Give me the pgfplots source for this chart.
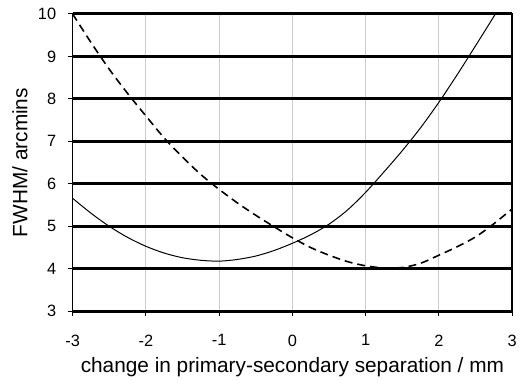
\documentclass[border=0pt]{standalone}
\usepackage{pgfplots}
\pgfplotsset{compat=1.18}
\usepackage{fontspec}
\setmainfont{Liberation Sans}
\begin{document}
\begin{tikzpicture}
\begin{axis}[
  name=main,
  width=442bp, height=299bp, scale only axis,
  xmin=-3, xmax=3, ymin=3, ymax=10,
  xtick={-3,-2,-1,0,1,2,3},
  ytick={3,4,5,6,7,8,9,10},
  tick align=outside,
  tick pos=left,
  major tick length=5bp,
  tick style={black, line width=1bp},
  xmajorgrids, ymajorgrids,
  x grid style={gray!40, line width=1bp},
  y grid style={black, line width=3bp},
  axis line style={black, line width=1.4bp},
  /pgf/number format/assume math mode=true,
  tick label style={font=\fontsize{16.5}{18}\selectfont},
  xticklabel style={yshift=-15bp},
  yticklabel style={xshift=-8bp},
  label style={font=\fontsize{21}{24}\selectfont},
  xlabel={change in primary-secondary separation / mm},
  ylabel={FWHM/ arcmins},
  xlabel style={at={(axis description cs:0.5,-0.187)}, anchor=center},
  ylabel style={at={(axis description cs:-0.12,0.5)}, anchor=center},
  clip=true,
]
\addplot[black, line width=1bp, smooth] coordinates {
(-3,5.66) (-2.75,5.31) (-2.5,5.00) (-2.25,4.74) (-2,4.53) (-1.75,4.37) (-1.5,4.26) (-1.25,4.20) (-1,4.18) (-0.75,4.22) (-0.5,4.30) (-0.25,4.43) (0,4.60) (0.25,4.80) (0.5,5.05) (0.75,5.38) (1,5.80) (1.25,6.28) (1.5,6.78) (1.75,7.32) (2,7.92) (2.25,8.57) (2.5,9.25) (2.75,9.94) (3,10.65)
};
\addplot[black, line width=1.6bp, dash pattern=on 8bp off 5bp, smooth] coordinates {
(-3,10) (-2.75,9.33) (-2.5,8.7) (-2.25,8.13) (-2,7.6) (-1.75,7.08) (-1.5,6.63) (-1.25,6.22) (-1,5.87) (-0.75,5.55) (-0.5,5.26) (-0.25,4.99) (0,4.73) (0.25,4.5) (0.5,4.32) (0.75,4.17) (1,4.07) (1.25,4.02) (1.5,4.03) (1.75,4.13) (2,4.32) (2.25,4.52) (2.5,4.75) (2.75,5.06) (3,5.41)
};
\end{axis}
\path (main.south west) ++(-73bp,-67bp) rectangle ++(520bp,380bp);
\end{tikzpicture}
\end{document}
